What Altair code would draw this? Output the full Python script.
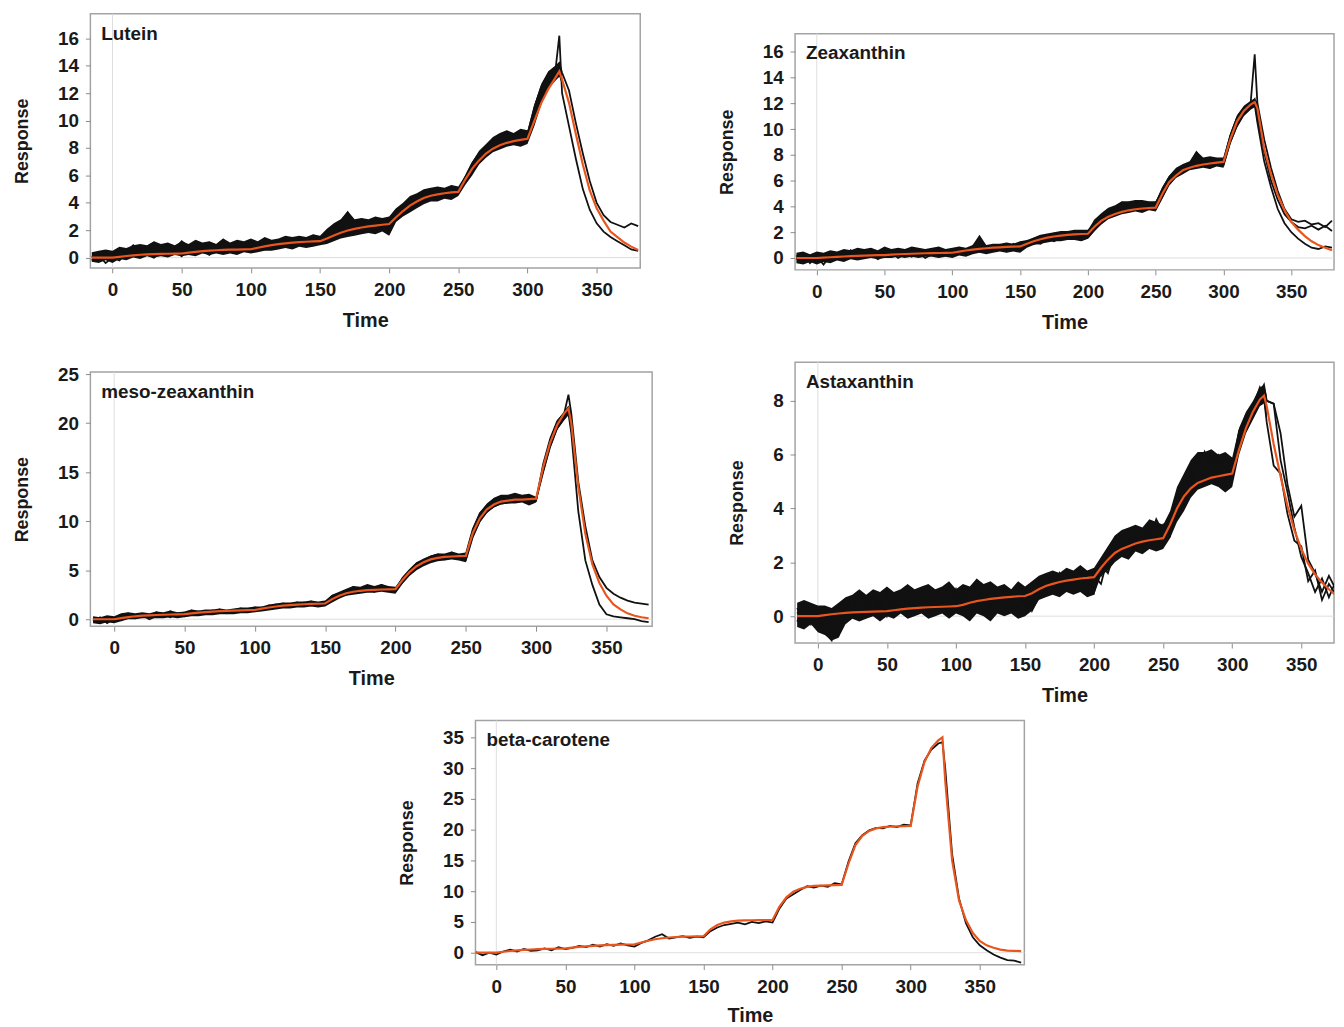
import altair as alt
import pandas as pd

# ---------------- data ----------------
TIME = [-15, -10, -5, 0, 5, 10, 15, 20, 25, 30,
        35, 40, 45, 50, 55, 60, 65, 70, 75, 80,
        85, 90, 95, 100, 105, 110, 115, 120, 125, 130,
        135, 140, 145, 150, 155, 160, 165, 170, 175, 180,
        185, 190, 195, 200, 205, 210, 215, 220, 225, 230,
        235, 240, 245, 250, 255, 260, 265, 270, 275, 280,
        285, 290, 295, 300, 305, 310, 315, 320, 323, 325,
        330, 335, 340, 345, 350, 355, 360, 365, 370, 375, 380]
# the noisy replicate band (lower / upper edge) is read up to the end of injection (t = 325)
BAND_TIME = TIME[:70]

X_TICKS = [0, 50, 100, 150, 200, 250, 300, 350]

# Lutein
LUT_FIT = [0, 0, 0, 0, 0.06, 0.12, 0.17, 0.21, 0.24, 0.26,
           0.27, 0.28, 0.29, 0.30, 0.36, 0.42, 0.47, 0.51, 0.54, 0.56,
           0.58, 0.59, 0.60, 0.61, 0.72, 0.82, 0.91, 0.98, 1.04, 1.09,
           1.13, 1.16, 1.18, 1.20, 1.40, 1.62, 1.82, 1.98, 2.10, 2.20,
           2.28, 2.34, 2.40, 2.45, 2.95, 3.40, 3.80, 4.10, 4.35, 4.52,
           4.62, 4.70, 4.76, 4.80, 5.70, 6.50, 7.10, 7.60, 7.95, 8.20,
           8.38, 8.50, 8.60, 8.68, 10.0, 11.3, 12.3, 13.1, 13.6, 13.0,
           11.3, 9.0, 6.8, 4.9, 3.6, 2.7, 1.9, 1.5, 1.1, 0.8, 0.55]
LUT_RUN1 = [0.1, -0.2, 0.3, 0.1, 0.6, 0.4, 0.9, 0.5, 0.8, 1.1,
            0.7, 1.0, 0.6, 1.2, 0.8, 1.0, 0.5, 1.1, 0.9, 1.3,
            0.8, 1.0, 0.7, 1.2, 0.9, 1.3, 1.0, 1.2, 1.4, 1.1,
            1.5, 1.2, 1.6, 1.3, 1.9, 2.3, 2.6, 3.3, 2.5, 2.8,
            2.4, 2.9, 2.6, 2.8, 3.5, 3.8, 4.3, 4.5, 4.8, 4.6,
            5.0, 4.7, 5.2, 4.9, 5.9, 6.9, 7.6, 8.0, 8.6, 8.9,
            9.2, 8.8, 9.3, 9.0, 11.0, 12.5, 13.4, 13.8, 14.2, 13.5,
            12.2, 9.8, 7.6, 5.6, 4.0, 3.1, 2.6, 2.4, 2.2, 2.5, 2.3]
LUT_RUN2 = [-0.2, 0.2, -0.4, 0.0, -0.2, 0.3, 0.1, 0.4, 0.2, 0.0,
            0.4, 0.2, 0.5, 0.1, 0.6, 0.3, 0.5, 0.2, 0.6, 0.4,
            0.7, 0.3, 0.6, 0.5, 0.8, 0.6, 1.0, 0.8, 1.1, 0.9,
            1.0, 1.2, 0.9, 1.1, 1.4, 1.5, 1.9, 1.7, 2.0, 1.8,
            2.2, 1.9, 2.3, 1.8, 2.9, 3.3, 3.6, 4.0, 4.2, 4.4,
            4.3, 4.6, 4.4, 4.7, 5.6, 6.3, 7.0, 7.7, 8.0, 8.3,
            8.5, 8.6, 8.4, 8.7, 10.2, 11.8, 12.9, 13.5, 16.2, 12.0,
            9.6, 7.2, 5.0, 3.5, 2.5, 1.9, 1.5, 1.2, 0.9, 0.6, 0.5]
LUT_LO = [-0.3, -0.4, -0.2, -0.4, -0.1, -0.2, 0.0, -0.1, 0.1, 0.0,
          0.1, 0.0, 0.2, 0.1, 0.2, 0.1, 0.3, 0.2, 0.3, 0.2,
          0.3, 0.2, 0.4, 0.3, 0.4, 0.5, 0.5, 0.6, 0.7, 0.6,
          0.8, 0.7, 0.8, 0.9, 1.0, 1.2, 1.4, 1.5, 1.6, 1.7,
          1.8, 1.7, 1.9, 1.6, 2.6, 3.0, 3.3, 3.6, 3.9, 4.1,
          4.1, 4.3, 4.2, 4.5, 5.3, 6.0, 6.8, 7.3, 7.7, 7.9,
          8.1, 8.2, 8.1, 8.3, 9.6, 11.2, 12.3, 12.9, 13.2, 12.6]
LUT_HI = [0.4, 0.5, 0.6, 0.5, 0.8, 0.7, 0.9, 1.0, 0.9, 1.2,
          1.0, 1.1, 0.9, 1.2, 1.0, 1.3, 1.1, 1.2, 1.0, 1.4,
          1.1, 1.3, 1.2, 1.4, 1.2, 1.5, 1.3, 1.4, 1.6, 1.5,
          1.6, 1.5, 1.7, 1.6, 2.1, 2.5, 2.8, 3.4, 2.8, 2.9,
          2.8, 3.0, 2.9, 3.0, 3.6, 4.0, 4.5, 4.7, 5.0, 5.1,
          5.2, 5.1, 5.3, 5.2, 6.0, 7.0, 7.8, 8.3, 8.8, 9.1,
          9.3, 9.1, 9.4, 9.3, 11.2, 12.7, 13.6, 14.0, 14.3, 13.6]

# Zeaxanthin
ZEA_FIT = [0, 0, 0, 0, 0.03, 0.06, 0.09, 0.12, 0.15, 0.17,
           0.19, 0.21, 0.22, 0.23, 0.26, 0.29, 0.31, 0.33, 0.35, 0.37,
           0.38, 0.39, 0.40, 0.41, 0.50, 0.58, 0.65, 0.71, 0.76, 0.80,
           0.83, 0.86, 0.88, 0.90, 1.10, 1.30, 1.46, 1.58, 1.67, 1.74,
           1.79, 1.83, 1.86, 1.88, 2.45, 2.90, 3.20, 3.42, 3.58, 3.70,
           3.78, 3.84, 3.88, 3.91, 5.0, 5.9, 6.4, 6.8, 7.0, 7.15,
           7.25, 7.33, 7.40, 7.45, 9.2, 10.6, 11.4, 11.9, 12.1, 11.6,
           8.5, 6.5, 4.9, 3.7, 2.8, 2.2, 1.7, 1.3, 1.0, 0.8, 0.6]
ZEA_RUN1 = [0.2, -0.3, 0.1, -0.2, 0.3, 0.0, 0.4, 0.1, 0.6, 0.2,
            0.5, 0.1, 0.4, 0.7, 0.2, 0.5, 0.3, 0.6, 0.2, 0.5,
            0.4, 0.7, 0.3, 0.5, 0.8, 0.4, 0.9, 1.5, 0.7, 1.0,
            0.8, 1.1, 0.9, 1.2, 1.0, 1.5, 1.7, 1.4, 1.9, 1.6,
            2.0, 1.8, 2.1, 1.7, 2.9, 3.3, 3.7, 3.9, 4.3, 4.0,
            4.4, 4.1, 4.3, 4.2, 5.4, 6.3, 6.8, 7.0, 7.3, 8.2,
            7.4, 7.7, 7.3, 7.6, 9.5, 10.9, 11.6, 12.0, 15.8, 12.0,
            9.2, 7.0, 5.2, 3.8, 3.0, 2.8, 2.9, 2.6, 2.7, 2.4, 2.9]
ZEA_RUN2 = [-0.1, 0.3, -0.4, 0.1, -0.5, 0.2, -0.1, 0.3, 0.0, 0.4,
            0.0, 0.3, -0.1, 0.2, 0.4, 0.0, 0.3, 0.1, 0.4, 0.0,
            0.3, 0.1, 0.5, 0.2, 0.4, 0.3, 0.6, 0.5, 0.8, 0.6,
            0.7, 0.5, 0.8, 0.6, 1.0, 1.2, 1.1, 1.5, 1.3, 1.6,
            1.5, 1.7, 1.4, 1.6, 2.2, 2.8, 3.3, 3.5, 3.7, 3.6,
            3.9, 3.7, 4.0, 3.8, 4.8, 5.9, 6.5, 6.7, 7.0, 7.1,
            7.2, 7.0, 7.3, 7.2, 9.0, 10.3, 11.2, 11.7, 11.9, 10.5,
            7.5, 5.5, 3.8, 2.7, 2.0, 1.5, 1.1, 0.8, 0.7, 0.9, 0.8]
ZEA_RUN3 = [0.0, 0.1, 0.2, -0.1, 0.1, 0.4, 0.2, 0.5, 0.3, 0.1,
            0.3, 0.6, 0.2, 0.4, 0.1, 0.3, 0.6, 0.4, 0.7, 0.3,
            0.6, 0.4, 0.2, 0.6, 0.3, 0.7, 0.5, 0.9, 0.6, 0.8,
            1.0, 0.7, 1.1, 0.9, 1.3, 1.1, 1.6, 1.8, 1.5, 1.9,
            1.7, 2.0, 1.8, 2.1, 2.6, 3.0, 3.5, 3.8, 3.9, 4.2,
            4.1, 4.4, 3.9, 4.3, 5.1, 6.1, 6.6, 7.1, 6.9, 7.3,
            7.6, 7.3, 7.7, 7.4, 9.4, 10.8, 11.5, 11.8, 12.3, 11.0,
            8.2, 6.0, 4.5, 3.4, 2.8, 2.4, 2.3, 2.5, 2.2, 2.5, 2.1]
ZEA_LO = [-0.4, -0.5, -0.3, -0.5, -0.3, -0.4, -0.2, -0.3, -0.1, -0.2,
          -0.1, 0.0, -0.1, 0.0, 0.0, 0.1, 0.0, 0.1, 0.0, 0.1,
          0.1, 0.0, 0.1, 0.0, 0.2, 0.1, 0.3, 0.4, 0.3, 0.4,
          0.5, 0.4, 0.5, 0.4, 0.8, 1.0, 1.1, 1.2, 1.3, 1.3,
          1.4, 1.4, 1.3, 1.5, 2.1, 2.6, 3.0, 3.2, 3.4, 3.5,
          3.6, 3.5, 3.7, 3.6, 4.6, 5.6, 6.2, 6.5, 6.8, 6.9,
          7.0, 6.9, 7.1, 7.0, 8.8, 10.1, 11.0, 11.5, 11.7, 10.3]
ZEA_HI = [0.4, 0.5, 0.3, 0.5, 0.4, 0.6, 0.5, 0.7, 0.6, 0.8,
          0.7, 0.8, 0.6, 0.9, 0.7, 0.8, 0.7, 0.9, 0.8, 0.7,
          0.8, 0.9, 0.7, 0.8, 0.9, 0.8, 1.0, 1.8, 1.0, 1.1,
          1.1, 1.2, 1.1, 1.3, 1.4, 1.6, 1.8, 1.9, 2.0, 2.1,
          2.1, 2.2, 2.2, 2.2, 3.0, 3.5, 3.9, 4.1, 4.4, 4.4,
          4.5, 4.5, 4.4, 4.4, 5.5, 6.4, 7.0, 7.3, 7.5, 8.3,
          7.8, 7.9, 7.8, 7.8, 9.7, 11.1, 11.8, 12.2, 12.4, 12.1]

# meso-zeaxanthin
MESO_FIT = [0, 0, 0, 0, 0.12, 0.22, 0.30, 0.36, 0.40, 0.43,
            0.46, 0.48, 0.50, 0.52, 0.60, 0.67, 0.73, 0.78, 0.82, 0.85,
            0.88, 0.90, 0.92, 0.94, 1.08, 1.20, 1.30, 1.38, 1.44, 1.49,
            1.53, 1.56, 1.58, 1.60, 2.05, 2.40, 2.65, 2.80, 2.90, 2.96,
            3.00, 3.03, 3.05, 3.07, 4.0, 4.8, 5.4, 5.8, 6.1, 6.25,
            6.35, 6.40, 6.43, 6.45, 8.8, 10.3, 11.2, 11.7, 12.0, 12.1,
            12.2, 12.2, 12.25, 12.3, 15.5, 18.0, 19.8, 21.0, 21.5, 20.0,
            13.5, 8.7, 5.6, 3.7, 2.4, 1.5, 1.0, 0.6, 0.35, 0.2, 0.1]
MESO_RUN1 = [0.1, -0.3, 0.2, -0.1, 0.4, 0.6, 0.2, 0.5, 0.3, 0.7,
             0.4, 0.8, 0.3, 0.6, 0.9, 0.5, 0.8, 0.7, 1.0, 0.6,
             0.9, 1.1, 0.8, 1.2, 1.0, 1.4, 1.2, 1.6, 1.3, 1.7,
             1.5, 1.8, 1.4, 1.7, 2.4, 2.6, 2.9, 3.3, 3.0, 3.4,
             3.1, 3.5, 3.2, 2.9, 4.2, 5.0, 5.7, 6.0, 6.4, 6.6,
             6.5, 6.8, 6.4, 6.6, 9.2, 10.8, 11.6, 12.2, 12.5, 12.4,
             12.7, 12.3, 12.6, 12.1, 15.8, 18.4, 20.2, 21.0, 22.9, 21.0,
             14.0, 9.5, 6.0, 4.3, 3.2, 2.6, 2.2, 1.9, 1.7, 1.6, 1.5]
MESO_RUN2 = [-0.2, 0.2, -0.4, 0.1, -0.1, 0.3, 0.1, 0.4, 0.0, 0.3,
             0.5, 0.2, 0.6, 0.3, 0.5, 0.8, 0.6, 0.9, 0.7, 0.8,
             0.7, 0.9, 1.0, 0.8, 1.2, 1.1, 1.5, 1.3, 1.5, 1.4,
             1.7, 1.4, 1.6, 1.5, 1.9, 2.3, 2.5, 2.7, 2.8, 3.1,
             2.8, 3.2, 2.9, 3.1, 3.8, 4.6, 5.2, 5.6, 5.9, 6.2,
             6.1, 6.3, 6.2, 6.0, 8.4, 10.0, 11.0, 11.5, 11.8, 11.9,
             12.0, 12.1, 11.8, 12.2, 15.0, 17.6, 19.5, 20.5, 21.0, 19.0,
             11.0, 6.0, 3.5, 1.5, 0.5, 0.3, 0.2, 0.1, 0.0, -0.2, -0.3]
MESO_LO = [-0.4, -0.5, -0.3, -0.4, -0.2, 0.0, 0.0, 0.1, 0.1, 0.1,
           0.1, 0.2, 0.1, 0.2, 0.3, 0.3, 0.4, 0.4, 0.5, 0.5,
           0.5, 0.6, 0.6, 0.7, 0.8, 0.9, 1.0, 1.1, 1.1, 1.2,
           1.2, 1.3, 1.2, 1.3, 1.7, 2.1, 2.4, 2.5, 2.6, 2.7,
           2.7, 2.8, 2.7, 2.6, 3.6, 4.4, 5.0, 5.4, 5.7, 5.9,
           6.0, 6.1, 6.0, 5.8, 8.3, 9.9, 10.8, 11.4, 11.7, 11.8,
           11.8, 11.9, 11.6, 11.9, 14.8, 17.4, 19.3, 20.3, 20.8, 18.8]
MESO_HI = [0.3, 0.2, 0.4, 0.3, 0.6, 0.7, 0.6, 0.7, 0.6, 0.8,
           0.7, 0.9, 0.7, 0.8, 1.0, 0.9, 1.0, 1.0, 1.1, 1.0,
           1.1, 1.2, 1.2, 1.3, 1.3, 1.5, 1.6, 1.7, 1.7, 1.8,
           1.8, 1.9, 1.8, 1.9, 2.5, 2.8, 3.1, 3.4, 3.3, 3.6,
           3.4, 3.6, 3.4, 3.3, 4.3, 5.1, 5.8, 6.2, 6.5, 6.7,
           6.7, 6.9, 6.7, 6.8, 9.3, 10.9, 11.8, 12.4, 12.7, 12.7,
           12.9, 12.7, 12.8, 12.5, 15.9, 18.5, 20.3, 21.2, 21.8, 21.2]

# Astaxanthin
ASTA_FIT = [0, 0, 0, 0, 0.04, 0.07, 0.10, 0.12, 0.14, 0.15,
            0.16, 0.17, 0.18, 0.19, 0.22, 0.25, 0.28, 0.30, 0.32, 0.33,
            0.34, 0.35, 0.36, 0.37, 0.42, 0.50, 0.56, 0.60, 0.64, 0.67,
            0.70, 0.72, 0.74, 0.75, 0.85, 1.00, 1.12, 1.20, 1.27, 1.32,
            1.36, 1.40, 1.42, 1.45, 1.80, 2.10, 2.35, 2.50, 2.60, 2.70,
            2.77, 2.82, 2.86, 2.90, 3.40, 4.00, 4.45, 4.75, 4.95, 5.05,
            5.15, 5.20, 5.25, 5.30, 6.20, 7.00, 7.60, 8.05, 8.20, 7.80,
            6.4, 5.2, 4.1, 3.2, 2.5, 1.95, 1.55, 1.25, 1.0, 0.78, 0.62]
ASTA_RUN1 = [0.3, -0.2, 0.4, -0.1, 0.2, -0.5, 0.3, 0.6, 0.2, 0.8,
             0.4, 0.7, 0.1, 0.9, 0.3, 0.6, 0.8, 0.2, 1.0, 0.5,
             0.9, 0.3, 1.1, 0.6, 0.8, 0.4, 1.3, 0.7, 1.0, 0.5,
             1.1, 0.6, 0.9, 0.4, 0.6, 1.3, 0.9, 1.5, 1.0, 1.4,
             1.1, 1.7, 1.2, 1.5, 1.2, 2.2, 2.6, 2.4, 3.0, 2.6,
             3.2, 2.8, 3.6, 3.1, 3.1, 4.3, 4.6, 5.4, 5.9, 5.5,
             6.1, 5.6, 5.9, 5.5, 6.9, 7.3, 7.9, 8.3, 8.6, 8.0,
             7.9, 5.8, 4.6, 3.3, 2.2, 1.6, 0.9, 1.4, 0.7, 1.3, 0.9]
ASTA_RUN2 = [-0.2, 0.3, -0.3, 0.2, -0.6, -0.9, 0.0, 0.3, 0.6, 0.1,
             0.5, 0.2, 0.6, 0.0, 0.7, 0.3, 0.5, 0.9, 0.3, 0.7,
             0.2, 0.6, 0.1, 0.4, 0.9, 0.2, 0.5, 0.8, 0.3, 0.9,
             0.4, 0.8, 0.3, 0.9, 0.2, 0.7, 1.2, 0.9, 1.6, 1.1,
             1.4, 1.0, 1.6, 0.9, 1.9, 1.6, 2.4, 2.9, 2.3, 2.9,
             2.6, 3.3, 2.7, 3.0, 3.8, 3.7, 4.9, 5.1, 5.5, 6.1,
             5.4, 5.8, 5.2, 5.7, 6.5, 7.1, 7.8, 8.5, 8.1, 7.2,
             5.6, 5.3, 3.8, 2.8, 2.6, 1.3, 1.7, 0.6, 1.2, 0.8, 1.3]
ASTA_RUN3 = [0.1, 0.4, 0.0, -0.4, 0.3, -0.2, -0.7, 0.4, 0.2, 0.5,
             0.2, 0.9, 0.4, 0.6, 0.2, 0.9, 0.4, 0.6, 0.7, 0.2,
             0.6, 0.8, 0.4, 1.0, 0.3, 0.9, 0.6, 1.1, 0.4, 0.7,
             0.9, 0.3, 1.1, 0.6, 1.0, 0.8, 1.5, 1.2, 0.9, 1.5,
             1.3, 1.5, 1.0, 1.7, 1.5, 1.9, 2.9, 2.5, 2.7, 3.3,
             2.9, 3.1, 3.0, 3.4, 3.0, 4.5, 4.2, 5.0, 5.6, 5.2,
             5.8, 6.0, 5.6, 5.1, 6.7, 7.5, 7.6, 8.0, 8.3, 8.0,
             7.9, 6.8, 4.9, 3.7, 4.1, 2.1, 1.6, 0.9, 1.5, 1.0, 1.5]
ASTA_LO = [-0.4, -0.5, -0.3, -0.6, -0.7, -0.9, -0.8, -0.3, -0.1, -0.2,
           -0.1, 0.0, -0.2, 0.0, -0.1, 0.1, -0.1, 0.0, 0.1, -0.1,
           0.0, 0.1, -0.1, 0.1, 0.0, -0.2, 0.1, 0.0, -0.2, 0.1,
           0.0, 0.1, -0.1, 0.0, 0.2, 0.6, 0.7, 0.8, 0.7, 0.9,
           0.8, 0.9, 0.7, 0.8, 1.5, 1.7, 2.0, 2.2, 2.1, 2.4,
           2.3, 2.5, 2.4, 2.5, 2.9, 3.5, 3.9, 4.4, 4.7, 4.8,
           4.9, 4.8, 4.6, 4.8, 6.0, 6.8, 7.3, 7.8, 7.9, 7.2]
ASTA_HI = [0.5, 0.6, 0.5, 0.4, 0.4, 0.3, 0.5, 0.7, 0.8, 1.0,
           0.8, 1.0, 0.9, 1.1, 0.9, 1.0, 1.2, 1.0, 1.1, 1.2,
           1.0, 1.1, 1.3, 1.0, 1.2, 1.1, 1.4, 1.2, 1.3, 1.1,
           1.2, 1.0, 1.3, 1.1, 1.3, 1.5, 1.6, 1.7, 1.6, 1.8,
           1.7, 1.9, 1.7, 1.8, 2.2, 2.6, 3.0, 3.2, 3.3, 3.4,
           3.3, 3.6, 3.5, 3.4, 3.9, 4.8, 5.3, 5.8, 6.1, 6.1,
           6.2, 6.0, 6.1, 5.9, 7.0, 7.6, 8.0, 8.5, 8.6, 8.2]

# beta-carotene
BETA_FIT = [0, 0, 0, 0, 0.15, 0.28, 0.38, 0.46, 0.52, 0.57,
            0.61, 0.64, 0.67, 0.70, 0.82, 0.94, 1.04, 1.12, 1.18, 1.23,
            1.27, 1.30, 1.33, 1.35, 1.65, 1.95, 2.18, 2.35, 2.47, 2.55,
            2.60, 2.63, 2.65, 2.67, 3.80, 4.50, 4.90, 5.10, 5.20, 5.25,
            5.28, 5.30, 5.31, 5.32, 7.50, 9.00, 9.90, 10.40, 10.70, 10.85,
            10.90, 10.95, 10.98, 11.00, 14.50, 17.50, 19.00, 19.80, 20.20, 20.40,
            20.50, 20.52, 20.55, 20.60, 27.0, 31.0, 33.3, 34.5, 35.0, 28.0,
            15.0, 8.5, 5.3, 3.2, 1.9, 1.2, 0.8, 0.5, 0.35, 0.3, 0.25]
BETA_RUN1 = [0.1, -0.4, 0.0, -0.3, 0.2, 0.5, 0.2, 0.6, 0.3, 0.4,
             0.7, 0.4, 0.9, 0.6, 0.8, 1.1, 0.9, 1.3, 1.0, 1.4,
             1.1, 1.5, 1.2, 1.0, 1.6, 2.0, 2.6, 3.0, 2.3, 2.5,
             2.7, 2.4, 2.6, 2.5, 3.5, 4.1, 4.5, 4.7, 4.9, 4.6,
             5.0, 4.8, 5.1, 4.9, 7.2, 8.8, 9.5, 10.2, 10.8, 10.6,
             10.9, 10.7, 11.3, 11.1, 14.8, 17.8, 19.1, 19.9, 20.3, 20.2,
             20.6, 20.4, 20.8, 20.7, 27.5, 31.2, 33.0, 34.0, 34.2, 30.0,
             16.0, 8.8, 4.8, 2.5, 1.2, 0.4, -0.3, -0.8, -1.2, -1.3, -1.6]

# ---------------- styling ----------------
FONT = "Liberation Sans"
FIT_COLOR = "#E8561E"
TRACE_COLOR = "#111111"


def panel(name, runs, fit, band, xdom, ydom, yticks, w, h, x_title_pad=11):
    rows = []
    for i, run in enumerate(runs):
        assert len(run) == len(TIME), (name, i, len(run))
        for t, v in zip(TIME, run):
            rows.append({"Time": t, "Response": v, "run": "run%d" % i})
    assert len(fit) == len(TIME), (name, "fit", len(fit))
    runs_df = pd.DataFrame(rows)
    fit_df = pd.DataFrame({"Time": TIME, "Response": fit})

    xscale = alt.Scale(domain=xdom, nice=False, zero=False)
    yscale = alt.Scale(domain=ydom, nice=False, zero=False)
    xaxis = alt.Axis(values=X_TICKS, title="Time", format="d", titlePadding=x_title_pad)
    yaxis = alt.Axis(values=yticks, title="Response", format="d")
    x = alt.X("Time:Q", scale=xscale, axis=xaxis)
    y = alt.Y("Response:Q", scale=yscale, axis=yaxis)

    one = pd.DataFrame({"z": [0]})
    zero_h = alt.Chart(one).mark_rule(color="#dedede", strokeWidth=1).encode(
        y=alt.YDatum(0, type="quantitative", scale=yscale, axis=yaxis))
    zero_v = alt.Chart(one).mark_rule(color="#dedede", strokeWidth=1).encode(
        x=alt.XDatum(0, type="quantitative", scale=xscale, axis=xaxis))
    layers = [zero_h, zero_v]
    if band is not None:
        lo, hi = band
        assert len(lo) == len(BAND_TIME) and len(hi) == len(BAND_TIME), (name, "band")
        band_df = pd.DataFrame({"Time": BAND_TIME, "lo": lo, "hi": hi})
        layers.append(
            alt.Chart(band_df).mark_area(color=TRACE_COLOR, opacity=1, clip=True).encode(
                x=x,
                y=alt.Y("lo:Q", scale=yscale, axis=yaxis),
                y2=alt.Y2("hi:Q"),
            )
        )
    lines = alt.Chart(runs_df).mark_line(color=TRACE_COLOR, strokeWidth=1.8, clip=True).encode(
        x=x, y=y, detail="run:N")
    fitl = alt.Chart(fit_df).mark_line(color=FIT_COLOR, strokeWidth=2.2, clip=True).encode(x=x, y=y)
    label = alt.Chart(pd.DataFrame({"name": [name]})).mark_text(
        align="left", baseline="top", font=FONT, fontWeight="bold", fontSize=19, color="#1a1a1a"
    ).encode(x=alt.value(11), y=alt.value(11), text="name:N")
    layers += [lines, fitl, label]
    return alt.layer(*layers).properties(width=w, height=h)


def spacer(w, h):
    return alt.Chart(pd.DataFrame({"s": [0]})).mark_rect(opacity=0).encode(
        x=alt.value(0), x2=alt.value(w), y=alt.value(0), y2=alt.value(h)
    ).properties(width=w, height=h, view=alt.ViewBackground(stroke="transparent"))


lutein = panel("Lutein", [LUT_RUN1, LUT_RUN2], LUT_FIT, (LUT_LO, LUT_HI),
               [-16, 381.5], [-0.75, 17.8], [0, 2, 4, 6, 8, 10, 12, 14, 16], 554, 256)
zea = panel("Zeaxanthin", [ZEA_RUN1, ZEA_RUN2, ZEA_RUN3], ZEA_FIT, (ZEA_LO, ZEA_HI),
            [-16, 381.5], [-0.92, 17.4], [0, 2, 4, 6, 8, 10, 12, 14, 16], 543, 238)
meso = panel("meso-zeaxanthin", [MESO_RUN1, MESO_RUN2], MESO_FIT, (MESO_LO, MESO_HI),
             [-16.9, 382.5], [-0.71, 25.2], [0, 5, 10, 15, 20, 25], 566, 256)
asta = panel("Astaxanthin", [ASTA_RUN1, ASTA_RUN2, ASTA_RUN3], ASTA_FIT, (ASTA_LO, ASTA_HI),
             [-16.5, 373.7], [-1.0, 9.44], [0, 2, 4, 6, 8], 543, 283)
beta = panel("beta-carotene", [BETA_RUN1], BETA_FIT, None,
             [-15.1, 382.3], [-1.94, 37.74], [0, 5, 10, 15, 20, 25, 30, 35], 553, 246,
             x_title_pad=9)

row1 = alt.hconcat(lutein, alt.vconcat(spacer(1, 17), zea, spacing=0), spacing=76)
row2 = alt.hconcat(alt.vconcat(spacer(1, 1), meso, spacing=0), asta, spacing=74)
row3 = alt.hconcat(spacer(309, 1), beta, spacing=0)

chart = alt.vconcat(row1, spacer(1, 25), row2, spacer(1, 10), row3, spacing=0).properties(
    padding={"left": 5, "top": 0, "right": 0, "bottom": 0}
).configure_view(
    stroke="#a3a3a3", strokeWidth=1.5
).configure_axis(
    domain=False, grid=False, labelOverlap=False,
    labelFont=FONT, labelFontSize=19, labelFontWeight="bold", labelColor="#1a1a1a",
    titleFont=FONT, titleFontWeight="bold", titleColor="#1a1a1a",
    tickColor="#8c8c8c", tickSize=5, tickWidth=1
).configure_axisX(
    labelPadding=8, titleFontSize=20
).configure_axisY(
    labelPadding=7, titlePadding=26, titleFontSize=18
)

chart.save("out.html", embed_options={"renderer": "svg", "actions": False})
